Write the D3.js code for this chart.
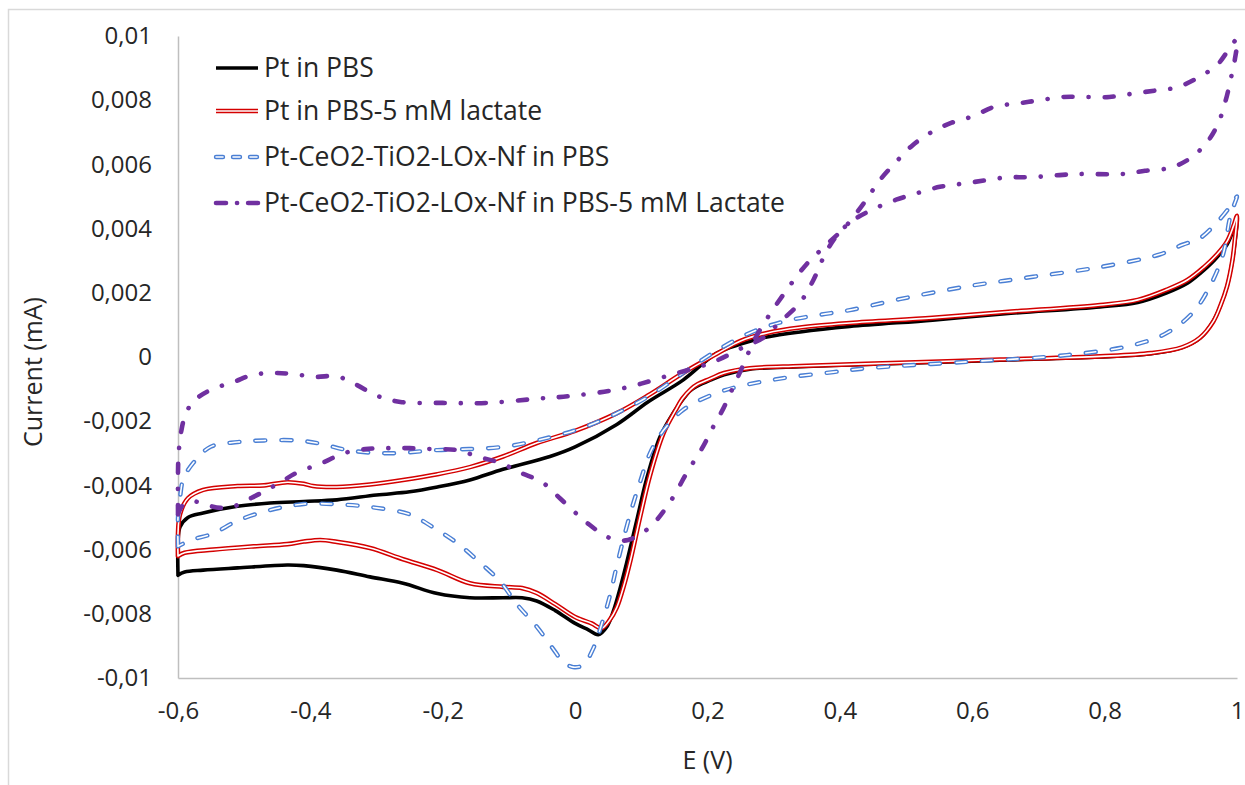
<!DOCTYPE html>
<html>
<head>
<meta charset="utf-8">
<script src="https://cdn.jsdelivr.net/npm/d3@7"></script>
<style>
  html, body { margin: 0; padding: 0; background: #fff; }
  #chart { width: 1245px; height: 785px; }
  text { font-family: "Open Sans", "DejaVu Sans", sans-serif; fill: #262626; }
</style>
</head>
<body>
<div id="chart"></div>
<script>
const xTicks = [-0.6, -0.4, -0.2, 0, 0.2, 0.4, 0.6, 0.8, 1];
const xTickLabels = ["-0,6", "-0,4", "-0,2", "0", "0,2", "0,4", "0,6", "0,8", "1"];
const yTicks = [0.01, 0.008, 0.006, 0.004, 0.002, 0, -0.002, -0.004, -0.006, -0.008, -0.01];
const yTickLabels = ["0,01", "0,008", "0,006", "0,004", "0,002", "0", "-0,002", "-0,004", "-0,006", "-0,008", "-0,01"];
const seriesNames = [
  "Pt in PBS",
  "Pt in PBS-5 mM lactate",
  "Pt-CeO2-TiO2-LOx-Nf in PBS",
  "Pt-CeO2-TiO2-LOx-Nf in PBS-5 mM Lactate",
];

// [E (V), current (mA)], each loop closed
const ptPbs = [
  [-0.6, -0.0068], [-0.6, -0.0058], [-0.597, -0.0053], [-0.585, -0.005], [-0.562, -0.00486],
  [-0.51, -0.00465], [-0.461, -0.00455], [-0.41, -0.0045], [-0.36, -0.00445], [-0.3, -0.0043],
  [-0.25, -0.0042], [-0.208, -0.00405], [-0.159, -0.00383], [-0.109, -0.0035], [-0.038, -0.0031],
  [0.0, -0.0028], [0.063, -0.0021], [0.11, -0.0014], [0.163, -0.00072], [0.214, 0.00012],
  [0.25, 0.0004], [0.29, 0.00062], [0.34, 0.00078], [0.415, 0.00095], [0.54, 0.00115],
  [0.65, 0.00135], [0.793, 0.00156], [0.85, 0.0017], [0.894, 0.002], [0.925, 0.0023],
  [0.944, 0.0026], [0.965, 0.003], [0.985, 0.0035], [0.995, 0.004], [1.0, 0.0043],
  [0.997, 0.0036], [0.993, 0.003], [0.985, 0.0022], [0.975, 0.0016], [0.965, 0.00115],
  [0.945, 0.0006], [0.918, 0.0003], [0.87, 0.0001], [0.793, 0.0], [0.642, -0.0001],
  [0.49, -0.0002], [0.415, -0.00025], [0.34, -0.0003], [0.264, -0.00038], [0.225, -0.00055],
  [0.204, -0.00072], [0.185, -0.0009], [0.174, -0.00105], [0.16, -0.0014], [0.148, -0.00175],
  [0.128, -0.0025], [0.108, -0.0038], [0.093, -0.0051], [0.078, -0.0064], [0.068, -0.0072],
  [0.058, -0.0079], [0.048, -0.0084], [0.035, -0.00865], [0.02, -0.0085], [0.0, -0.0083],
  [-0.03, -0.0079], [-0.058, -0.0076], [-0.08, -0.0075], [-0.109, -0.0075], [-0.159, -0.0075],
  [-0.208, -0.00737], [-0.26, -0.00705], [-0.31, -0.00685], [-0.36, -0.00664], [-0.41, -0.0065],
  [-0.435, -0.00648], [-0.51, -0.00657], [-0.562, -0.00664], [-0.59, -0.0067], [-0.6, -0.0068],
];

const ptLactate = [
  [-0.6, -0.0062], [-0.6, -0.0055], [-0.597, -0.0049], [-0.585, -0.0044], [-0.562, -0.00414],
  [-0.51, -0.00402], [-0.47, -0.004], [-0.435, -0.0039], [-0.41, -0.00395], [-0.396, -0.00402],
  [-0.36, -0.00405], [-0.31, -0.00397], [-0.26, -0.00383], [-0.208, -0.00365], [-0.159, -0.00343],
  [-0.109, -0.0031], [-0.058, -0.00268], [0.0, -0.0023], [0.063, -0.00175], [0.11, -0.0012],
  [0.163, -0.0005], [0.214, 0.0001], [0.25, 0.0005], [0.29, 0.00075], [0.34, 0.00092],
  [0.415, 0.00106], [0.54, 0.00122], [0.65, 0.0014], [0.793, 0.00162], [0.85, 0.00178],
  [0.894, 0.0021], [0.925, 0.0024], [0.95, 0.0028], [0.97, 0.0032], [0.985, 0.0036],
  [0.995, 0.0041], [1.0, 0.0044],
  [0.997, 0.0037], [0.993, 0.003], [0.985, 0.0022], [0.975, 0.0016], [0.964, 0.0011],
  [0.944, 0.0006], [0.917, 0.0003], [0.87, 0.00012], [0.793, 0.00002], [0.642, -0.00008],
  [0.49, -0.00018], [0.34, -0.00028], [0.264, -0.00035], [0.225, -0.0005], [0.204, -0.00068],
  [0.185, -0.00085], [0.175, -0.001], [0.162, -0.0013], [0.152, -0.00165], [0.133, -0.0024],
  [0.113, -0.0037], [0.098, -0.005], [0.084, -0.0063], [0.074, -0.0071], [0.063, -0.0078],
  [0.052, -0.0082], [0.04, -0.00845], [0.025, -0.0083], [0.0, -0.0081], [-0.03, -0.0077],
  [-0.058, -0.00735], [-0.08, -0.0072], [-0.109, -0.00716], [-0.159, -0.00705], [-0.208, -0.00664],
  [-0.26, -0.0063], [-0.31, -0.00595], [-0.36, -0.00576], [-0.385, -0.0057], [-0.41, -0.00575],
  [-0.435, -0.00583], [-0.486, -0.0059], [-0.547, -0.006], [-0.59, -0.0061], [-0.6, -0.0062],
];

const nfPbs = [
  [-0.6, -0.0059], [-0.6, -0.005], [-0.597, -0.0044], [-0.592, -0.0038], [-0.577, -0.0033],
  [-0.551, -0.0028], [-0.51, -0.00265], [-0.47, -0.0026], [-0.42, -0.0026], [-0.385, -0.0027],
  [-0.344, -0.0029], [-0.284, -0.003], [-0.208, -0.0029], [-0.109, -0.0028], [-0.038, -0.0025],
  [0.012, -0.0022], [0.063, -0.00175], [0.113, -0.0012], [0.163, -0.0005], [0.214, 0.0002],
  [0.264, 0.00075], [0.314, 0.0011], [0.365, 0.0013], [0.415, 0.00146], [0.49, 0.0018],
  [0.592, 0.0022], [0.692, 0.0025], [0.793, 0.0028], [0.884, 0.0032], [0.918, 0.0035],
  [0.944, 0.0037], [0.97, 0.0042], [0.99, 0.0047], [1.0, 0.005],
  [0.995, 0.0047], [0.989, 0.0043], [0.979, 0.0032], [0.959, 0.0022], [0.934, 0.0014],
  [0.894, 0.00075], [0.843, 0.00037], [0.743, 0.00006], [0.592, -0.00015], [0.441, -0.00035],
  [0.39, -0.00047], [0.314, -0.00066], [0.245, -0.00093], [0.204, -0.0012], [0.163, -0.00165],
  [0.133, -0.0023], [0.113, -0.003], [0.098, -0.0039], [0.083, -0.0049], [0.063, -0.0065],
  [0.053, -0.0074], [0.042, -0.0082], [0.027, -0.0091], [0.012, -0.0096], [-0.003, -0.00966],
  [-0.018, -0.0095], [-0.033, -0.0091], [-0.058, -0.0084], [-0.088, -0.0077], [-0.113, -0.007],
  [-0.144, -0.0064], [-0.178, -0.0058], [-0.215, -0.0053], [-0.25, -0.0049], [-0.3, -0.0047],
  [-0.35, -0.0046], [-0.41, -0.00458], [-0.461, -0.00477], [-0.51, -0.0051], [-0.547, -0.0055],
  [-0.58, -0.0057], [-0.6, -0.0059],
];

const nfLactate = [
  [-0.6, -0.0049], [-0.592, -0.0046], [-0.575, -0.0045], [-0.555, -0.00462], [-0.536, -0.0047],
  [-0.515, -0.00465], [-0.49, -0.0044], [-0.471, -0.0042], [-0.445, -0.0039], [-0.42, -0.0036],
  [-0.382, -0.0033], [-0.35, -0.003], [-0.317, -0.00287], [-0.284, -0.00284], [-0.25, -0.00284],
  [-0.215, -0.00287], [-0.178, -0.0029], [-0.148, -0.0031], [-0.113, -0.0033], [-0.083, -0.0036],
  [-0.05, -0.0039], [-0.023, -0.0044], [0.003, -0.0049], [0.02, -0.0052], [0.04, -0.0055],
  [0.06, -0.0057], [0.08, -0.0057], [0.1, -0.0055], [0.118, -0.0052], [0.144, -0.0045],
  [0.169, -0.0036], [0.193, -0.0028], [0.208, -0.0022], [0.224, -0.0016], [0.239, -0.00093],
  [0.254, -0.00025], [0.27, 0.0005], [0.29, 0.0012], [0.32, 0.0021], [0.35, 0.0029],
  [0.38, 0.0035], [0.41, 0.0041], [0.44, 0.0049], [0.46, 0.0055], [0.486, 0.0061],
  [0.51, 0.0066], [0.538, 0.007], [0.569, 0.0073], [0.601, 0.0075], [0.634, 0.0078],
  [0.669, 0.0079], [0.702, 0.008], [0.737, 0.0081], [0.771, 0.0081], [0.807, 0.0081],
  [0.841, 0.0082], [0.876, 0.0083], [0.909, 0.0084], [0.941, 0.0087], [0.97, 0.0091],
  [0.985, 0.0095], [1.0, 0.0099],
  [0.997, 0.0093], [0.991, 0.0087], [0.983, 0.008], [0.972, 0.0073], [0.955, 0.0067],
  [0.93, 0.0062], [0.9, 0.0059], [0.861, 0.0058], [0.826, 0.0057], [0.758, 0.0057],
  [0.687, 0.0056], [0.654, 0.0056], [0.619, 0.0055], [0.585, 0.0054], [0.551, 0.0053],
  [0.516, 0.0051], [0.485, 0.0049], [0.45, 0.0046], [0.423, 0.0043], [0.4, 0.0039],
  [0.38, 0.0033], [0.36, 0.0024], [0.34, 0.0017], [0.31, 0.0011], [0.284, 0.0006],
  [0.254, 0.0003], [0.208, -0.00016], [0.144, -0.00056], [0.073, -0.00097], [0.0, -0.0012],
  [-0.058, -0.0013], [-0.133, -0.00143], [-0.2, -0.00143], [-0.264, -0.0014], [-0.3, -0.0012],
  [-0.33, -0.00087], [-0.36, -0.0006], [-0.393, -0.00062], [-0.426, -0.00053], [-0.456, -0.0005],
  [-0.488, -0.00056], [-0.516, -0.00078], [-0.548, -0.001], [-0.572, -0.0013], [-0.587, -0.0017],
  [-0.595, -0.0023], [-0.599, -0.003], [-0.6, -0.0036], [-0.6, -0.0049],
];

const width = 1245;
const height = 785;
const margin = { top: 36, right: 8, bottom: 107, left: 178 };

const svg = d3
  .select("#chart")
  .append("svg")
  .attr("width", width)
  .attr("height", height)
  .attr("viewBox", [0, 0, width, height]);

// chart area border
svg
  .append("rect")
  .attr("x", 8.5)
  .attr("y", 9.5)
  .attr("width", width)
  .attr("height", height)
  .attr("fill", "none")
  .attr("stroke", "#d9d9d9")
  .attr("stroke-width", 1.5);

const x = d3.scaleLinear().domain([-0.6, 1]).range([margin.left, width - margin.right]);
const y = d3.scaleLinear().domain([-0.01, 0.01]).range([height - margin.bottom, margin.top]);

// axes: light grey lines, no tick marks
const xAxis = svg
  .append("g")
  .attr("transform", `translate(0,${y(-0.01)})`)
  .call(
    d3.axisBottom(x)
      .tickValues(xTicks)
      .tickSize(0)
      .tickPadding(24)
      .tickFormat((d, i) => xTickLabels[i])
  );

const yAxis = svg
  .append("g")
  .attr("transform", `translate(${x(-0.6)},0)`)
  .call(
    d3.axisLeft(y)
      .tickValues(yTicks)
      .tickSize(0)
      .tickPadding(26)
      .tickFormat((d, i) => yTickLabels[i])
  );

[xAxis, yAxis].forEach((g) => {
  g.select(".domain").attr("stroke", "#bfbfbf").attr("stroke-width", 1.5);
  g.selectAll("text")
    .attr("font-family", '"Open Sans", sans-serif')
    .attr("font-size", 24)
    .attr("fill", "#262626");
});

svg
  .append("text")
  .attr("x", (x(-0.6) + x(1)) / 2)
  .attr("y", 769)
  .attr("text-anchor", "middle")
  .attr("font-size", 25)
  .text("E (V)");

svg
  .append("text")
  .attr("transform", `translate(42,372) rotate(-90)`)
  .attr("text-anchor", "middle")
  .attr("font-size", 25)
  .text("Current (mA)");

const line = d3
  .line()
  .x((d) => x(d[0]))
  .y((d) => y(d[1]))
  .curve(d3.curveCatmullRom.alpha(0.5));

// each style is a list of strokes drawn over one another (double lines)
const styles = [
  [{ stroke: "#000000", width: 3.6 }],
  [
    { stroke: "#d40000", width: 4.6 },
    { stroke: "#ffffff", width: 1.6 },
  ],
  [
    { stroke: "#4a7fd4", width: 4.4, dash: "10,16" },
    { stroke: "#ffffff", width: 1.6, dash: "10,16" },
  ],
  [{ stroke: "#7030a0", width: 4.6, dash: "9,16,0.1,16" }],
];
const legendDash = [null, null, "7,10", "10,11,0.1,11"];

const series = [ptPbs, ptLactate, nfPbs, nfLactate];

const plot = svg.append("g").attr("class", "series");

series.forEach((data, i) => {
  styles[i].forEach((s) => {
    plot
      .append("path")
      .datum(data)
      .attr("d", line)
      .attr("fill", "none")
      .attr("stroke", s.stroke)
      .attr("stroke-width", s.width)
      .attr("stroke-linejoin", "round")
      .attr("stroke-linecap", "round")
      .attr("stroke-dasharray", s.dash || null);
  });
});

// legend
const legend = svg.append("g").attr("class", "legend");
const legendRows = [68, 111, 157, 203];

seriesNames.forEach((name, i) => {
  styles[i].forEach((s) => {
    legend
      .append("line")
      .attr("x1", 216)
      .attr("x2", 258)
      .attr("y1", legendRows[i])
      .attr("y2", legendRows[i])
      .attr("stroke", s.stroke)
      .attr("stroke-width", s.width)
      .attr("stroke-linecap", s.dash ? "round" : "butt")
      .attr("stroke-dasharray", s.dash ? legendDash[i] : null);
  });
  legend
    .append("text")
    .attr("x", 264)
    .attr("y", legendRows[i])
    .attr("dy", "0.35em")
    .attr("font-size", 26.5)
    .text(name);
});
</script>
</body>
</html>
